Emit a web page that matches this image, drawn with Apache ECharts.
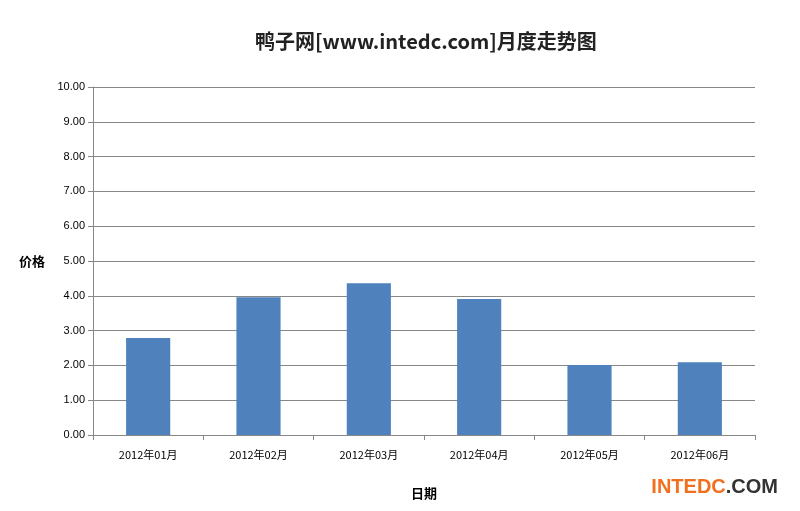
<!DOCTYPE html>
<html><head><meta charset="utf-8">
<script src="https://cdn.jsdelivr.net/npm/echarts@6/dist/echarts.min.js"></script>
<style>html,body{margin:0;padding:0;background:#fff}#c{width:800px;height:511px}</style>
</head><body><div id="c"></div>
<script>
const categories = ['2012年01月','2012年02月','2012年03月','2012年04月','2012年05月','2012年06月'];
const prices = [2.79, 3.96, 4.36, 3.91, 2.01, 2.09];
const chart = echarts.init(document.getElementById('c'));
chart.setOption({
  animation:false,
  title:{text:'鸭子网[www.intedc.com]月度走势图',left:250,top:26,textStyle:{fontSize:20,fontWeight:'bold',color:'#222',fontFamily:'Noto Sans CJK SC'}},
  grid:{left:93,right:45,top:87,bottom:76},
  xAxis:{type:'category',data:categories,name:'日期',nameLocation:'middle',nameGap:52,
    nameTextStyle:{fontWeight:'bold',fontSize:13,color:'#000',fontFamily:'Noto Sans CJK SC'},
    axisLine:{lineStyle:{color:'#888'}},axisTick:{show:true,lineStyle:{color:'#888'}},
    axisLabel:{fontSize:11,color:'#000',margin:14,fontFamily:'Noto Sans CJK SC'}},
  yAxis:{type:'value',min:0,max:10,interval:1,name:'价格',nameLocation:'middle',nameGap:48,nameRotate:0,
    nameTextStyle:{fontWeight:'bold',fontSize:13,color:'#000',fontFamily:'Noto Sans CJK SC',padding:[0,0,40,0]},
    axisLine:{show:true,lineStyle:{color:'#888'}},axisTick:{show:true,lineStyle:{color:'#888'}},
    axisLabel:{fontSize:11,color:'#000',formatter:v=>v.toFixed(2)},
    splitLine:{lineStyle:{color:'#888'}}},
  series:[{type:'bar',data:prices,barWidth:'40%',itemStyle:{color:'#4f81bd'}}],
  graphic:[{type:'text',right:22,bottom:14,style:{text:'{a|INTEDC}{b|.COM}',rich:{a:{font:'bold 20px Liberation Sans',fill:'#f07020'},b:{font:'bold 20px Liberation Sans',fill:'#333'}}}}]
});
</script></body></html>
